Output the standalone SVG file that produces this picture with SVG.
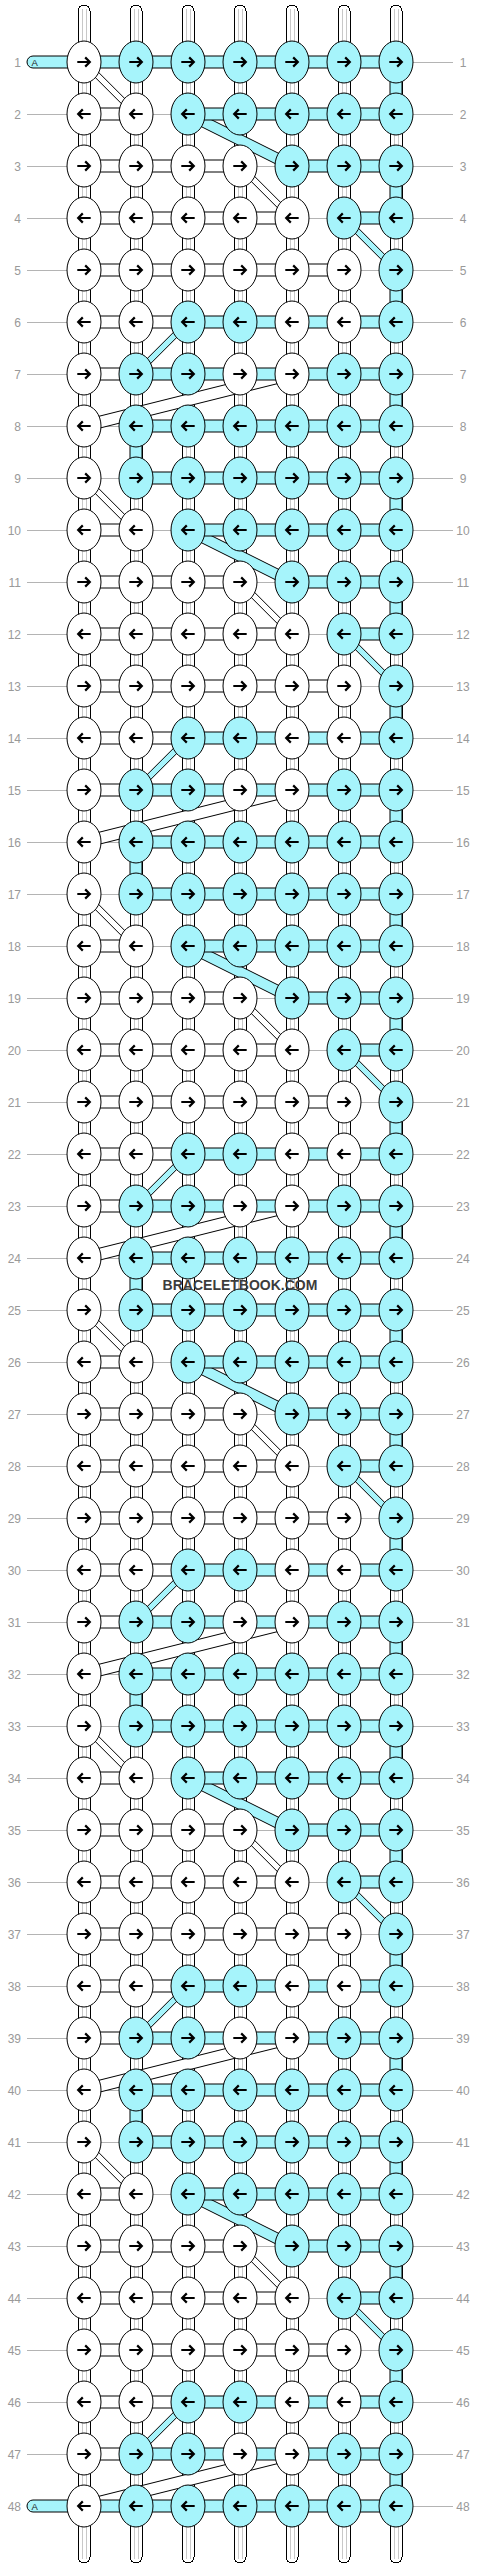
<svg xmlns="http://www.w3.org/2000/svg" width="480" height="2568" viewBox="0 0 480 2568">
<style>
.gd{stroke:#b4b4b4;stroke-width:1;fill:none}
.lb{font-family:"Liberation Sans",Arial,sans-serif;font-size:12px;fill:#999}
.il{stroke:#c8c8c8;stroke-width:1;fill:none}
.b{fill:#a6f4fb;stroke:#000;stroke-width:1}
.w{fill:#fff;stroke:#000;stroke-width:1}
.ar{fill:none;stroke:#000;stroke-width:2.2}
.at{font-family:"Liberation Sans",Arial,sans-serif;font-size:9.5px;fill:#222}
.wm{font-family:"Liberation Sans",Arial,sans-serif;font-size:14px;font-weight:bold;fill:#3c3c3c}
</style>
<defs>
<path id="ra" class="ar" d="M-6.7,0H5.3M1.2,-4.6L5.8,0L1.2,4.6"/>
<path id="la" class="ar" d="M6.7,0H-5.3M-1.2,-4.6L-5.8,0L-1.2,4.6"/>
<g id="WR"><ellipse class="w" rx="17" ry="21"/><use href="#ra"/></g>
<g id="WL"><ellipse class="w" rx="17" ry="21"/><use href="#la"/></g>
<g id="BR"><ellipse class="b" rx="17" ry="21"/><use href="#ra"/></g>
<g id="BL"><ellipse class="b" rx="17" ry="21"/><use href="#la"/></g>
</defs>
<rect width="480" height="2568" fill="#fff"/>
<g id="guides" shape-rendering="crispEdges">
<path class="gd" d="M27 62H453M27 114H453M27 166H453M27 218H453M27 270H453M27 322H453M27 374H453M27 426H453M27 478H453M27 530H453M27 582H453M27 634H453M27 686H453M27 738H453M27 790H453M27 842H453M27 894H453M27 946H453M27 998H453M27 1050H453M27 1102H453M27 1154H453M27 1206H453M27 1258H453M27 1310H453M27 1362H453M27 1414H453M27 1466H453M27 1518H453M27 1570H453M27 1622H453M27 1674H453M27 1726H453M27 1778H453M27 1830H453M27 1882H453M27 1934H453M27 1986H453M27 2038H453M27 2090H453M27 2142H453M27 2194H453M27 2246H453M27 2298H453M27 2350H453M27 2402H453M27 2454H453M27 2506H453"/>
</g>
<g id="labels-left" class="lb" text-anchor="end">
<text x="21" y="66.5">1</text><text x="21" y="118.5">2</text><text x="21" y="170.5">3</text><text x="21" y="222.5">4</text><text x="21" y="274.5">5</text><text x="21" y="326.5">6</text><text x="21" y="378.5">7</text><text x="21" y="430.5">8</text>
<text x="21" y="482.5">9</text><text x="21" y="534.5">10</text><text x="21" y="586.5">11</text><text x="21" y="638.5">12</text><text x="21" y="690.5">13</text><text x="21" y="742.5">14</text><text x="21" y="794.5">15</text><text x="21" y="846.5">16</text>
<text x="21" y="898.5">17</text><text x="21" y="950.5">18</text><text x="21" y="1002.5">19</text><text x="21" y="1054.5">20</text><text x="21" y="1106.5">21</text><text x="21" y="1158.5">22</text><text x="21" y="1210.5">23</text><text x="21" y="1262.5">24</text>
<text x="21" y="1314.5">25</text><text x="21" y="1366.5">26</text><text x="21" y="1418.5">27</text><text x="21" y="1470.5">28</text><text x="21" y="1522.5">29</text><text x="21" y="1574.5">30</text><text x="21" y="1626.5">31</text><text x="21" y="1678.5">32</text>
<text x="21" y="1730.5">33</text><text x="21" y="1782.5">34</text><text x="21" y="1834.5">35</text><text x="21" y="1886.5">36</text><text x="21" y="1938.5">37</text><text x="21" y="1990.5">38</text><text x="21" y="2042.5">39</text><text x="21" y="2094.5">40</text>
<text x="21" y="2146.5">41</text><text x="21" y="2198.5">42</text><text x="21" y="2250.5">43</text><text x="21" y="2302.5">44</text><text x="21" y="2354.5">45</text><text x="21" y="2406.5">46</text><text x="21" y="2458.5">47</text><text x="21" y="2510.5">48</text>
</g>
<g id="labels-right" class="lb" text-anchor="middle">
<text x="463" y="66.5">1</text><text x="463" y="118.5">2</text><text x="463" y="170.5">3</text><text x="463" y="222.5">4</text><text x="463" y="274.5">5</text><text x="463" y="326.5">6</text><text x="463" y="378.5">7</text><text x="463" y="430.5">8</text>
<text x="463" y="482.5">9</text><text x="463" y="534.5">10</text><text x="463" y="586.5">11</text><text x="463" y="638.5">12</text><text x="463" y="690.5">13</text><text x="463" y="742.5">14</text><text x="463" y="794.5">15</text><text x="463" y="846.5">16</text>
<text x="463" y="898.5">17</text><text x="463" y="950.5">18</text><text x="463" y="1002.5">19</text><text x="463" y="1054.5">20</text><text x="463" y="1106.5">21</text><text x="463" y="1158.5">22</text><text x="463" y="1210.5">23</text><text x="463" y="1262.5">24</text>
<text x="463" y="1314.5">25</text><text x="463" y="1366.5">26</text><text x="463" y="1418.5">27</text><text x="463" y="1470.5">28</text><text x="463" y="1522.5">29</text><text x="463" y="1574.5">30</text><text x="463" y="1626.5">31</text><text x="463" y="1678.5">32</text>
<text x="463" y="1730.5">33</text><text x="463" y="1782.5">34</text><text x="463" y="1834.5">35</text><text x="463" y="1886.5">36</text><text x="463" y="1938.5">37</text><text x="463" y="1990.5">38</text><text x="463" y="2042.5">39</text><text x="463" y="2094.5">40</text>
<text x="463" y="2146.5">41</text><text x="463" y="2198.5">42</text><text x="463" y="2250.5">43</text><text x="463" y="2302.5">44</text><text x="463" y="2354.5">45</text><text x="463" y="2406.5">46</text><text x="463" y="2458.5">47</text><text x="463" y="2510.5">48</text>
</g>
<g id="strings" shape-rendering="crispEdges">
<rect class="w" x="78" y="5" width="12" height="2558" rx="6"/>
<rect class="w" x="130" y="5" width="12" height="2558" rx="6"/>
<rect class="w" x="182" y="5" width="12" height="2558" rx="6"/>
<rect class="w" x="234" y="5" width="12" height="2558" rx="6"/>
<rect class="w" x="286" y="5" width="12" height="2558" rx="6"/>
<rect class="w" x="338" y="5" width="12" height="2558" rx="6"/>
<rect class="w" x="390" y="5" width="12" height="2558" rx="6"/>
<path class="il" d="M82 9V2559M86 9V2559M134 9V2559M138 9V2559M186 9V2559M190 9V2559M238 9V2559M242 9V2559M290 9V2559M294 9V2559M342 9V2559M346 9V2559M394 9V2559M398 9V2559"/>
</g>
<g id="connectors">
<g id="conn-p1">
<rect class="b" x="390" y="77" width="12" height="22"/><rect class="b" x="390" y="181" width="12" height="22"/><rect class="b" x="390" y="285" width="12" height="22"/><rect class="b" x="390" y="389" width="12" height="22"/><rect class="b" x="130" y="441" width="12" height="22"/>
<polygon class="w" points="86.1,59.9 138.1,111.9 133.9,116.1 81.9,64.1"/><polygon class="b" points="188,108 292,160 292,172 188,120"/><polygon class="w" points="242.1,163.9 294.1,215.9 289.9,220.1 237.9,168.1"/><polygon class="b" points="346.1,215.9 398.1,267.9 393.9,272.1 341.9,220.1"/><polygon class="b" points="190.1,324.1 138.1,376.1 133.9,371.9 185.9,319.9"/><polygon class="w" points="292,368 84,420 84,432 292,380"/>
<rect class="b" x="27" y="56" width="62" height="12" rx="6"/><text class="at" x="31.5" y="65.5">A</text>
<rect class="b" x="96" y="56" width="288" height="12"/>
<rect class="w" x="96" y="108" width="28" height="12"/><rect class="b" x="200" y="108" width="184" height="12"/><rect class="w" x="96" y="160" width="132" height="12"/><rect class="b" x="304" y="160" width="80" height="12"/><rect class="w" x="96" y="212" width="184" height="12"/><rect class="b" x="356" y="212" width="28" height="12"/><rect class="w" x="96" y="264" width="236" height="12"/><rect class="w" x="96" y="316" width="80" height="12"/><rect class="b" x="200" y="316" width="184" height="12"/><rect class="w" x="96" y="368" width="28" height="12"/><rect class="b" x="148" y="368" width="236" height="12"/><rect class="b" x="148" y="420" width="236" height="12"/>
</g>
<g id="conn-p2" transform="translate(0,416)">
<rect class="b" x="390" y="77" width="12" height="22"/><rect class="b" x="390" y="181" width="12" height="22"/><rect class="b" x="390" y="285" width="12" height="22"/><rect class="b" x="390" y="389" width="12" height="22"/><rect class="b" x="130" y="441" width="12" height="22"/>
<polygon class="w" points="86.1,59.9 138.1,111.9 133.9,116.1 81.9,64.1"/><polygon class="b" points="188,108 292,160 292,172 188,120"/><polygon class="w" points="242.1,163.9 294.1,215.9 289.9,220.1 237.9,168.1"/><polygon class="b" points="346.1,215.9 398.1,267.9 393.9,272.1 341.9,220.1"/><polygon class="b" points="190.1,324.1 138.1,376.1 133.9,371.9 185.9,319.9"/><polygon class="w" points="292,368 84,420 84,432 292,380"/>
<rect class="b" x="148" y="56" width="236" height="12"/>
<rect class="w" x="96" y="108" width="28" height="12"/><rect class="b" x="200" y="108" width="184" height="12"/><rect class="w" x="96" y="160" width="132" height="12"/><rect class="b" x="304" y="160" width="80" height="12"/><rect class="w" x="96" y="212" width="184" height="12"/><rect class="b" x="356" y="212" width="28" height="12"/><rect class="w" x="96" y="264" width="236" height="12"/><rect class="w" x="96" y="316" width="80" height="12"/><rect class="b" x="200" y="316" width="184" height="12"/><rect class="w" x="96" y="368" width="28" height="12"/><rect class="b" x="148" y="368" width="236" height="12"/><rect class="b" x="148" y="420" width="236" height="12"/>
</g>
<g id="conn-p3" transform="translate(0,832)">
<rect class="b" x="390" y="77" width="12" height="22"/><rect class="b" x="390" y="181" width="12" height="22"/><rect class="b" x="390" y="285" width="12" height="22"/><rect class="b" x="390" y="389" width="12" height="22"/><rect class="b" x="130" y="441" width="12" height="22"/>
<polygon class="w" points="86.1,59.9 138.1,111.9 133.9,116.1 81.9,64.1"/><polygon class="b" points="188,108 292,160 292,172 188,120"/><polygon class="w" points="242.1,163.9 294.1,215.9 289.9,220.1 237.9,168.1"/><polygon class="b" points="346.1,215.9 398.1,267.9 393.9,272.1 341.9,220.1"/><polygon class="b" points="190.1,324.1 138.1,376.1 133.9,371.9 185.9,319.9"/><polygon class="w" points="292,368 84,420 84,432 292,380"/>
<rect class="b" x="148" y="56" width="236" height="12"/>
<rect class="w" x="96" y="108" width="28" height="12"/><rect class="b" x="200" y="108" width="184" height="12"/><rect class="w" x="96" y="160" width="132" height="12"/><rect class="b" x="304" y="160" width="80" height="12"/><rect class="w" x="96" y="212" width="184" height="12"/><rect class="b" x="356" y="212" width="28" height="12"/><rect class="w" x="96" y="264" width="236" height="12"/><rect class="w" x="96" y="316" width="80" height="12"/><rect class="b" x="200" y="316" width="184" height="12"/><rect class="w" x="96" y="368" width="28" height="12"/><rect class="b" x="148" y="368" width="236" height="12"/><rect class="b" x="148" y="420" width="236" height="12"/>
</g>
<g id="conn-p4" transform="translate(0,1248)">
<rect class="b" x="390" y="77" width="12" height="22"/><rect class="b" x="390" y="181" width="12" height="22"/><rect class="b" x="390" y="285" width="12" height="22"/><rect class="b" x="390" y="389" width="12" height="22"/><rect class="b" x="130" y="441" width="12" height="22"/>
<polygon class="w" points="86.1,59.9 138.1,111.9 133.9,116.1 81.9,64.1"/><polygon class="b" points="188,108 292,160 292,172 188,120"/><polygon class="w" points="242.1,163.9 294.1,215.9 289.9,220.1 237.9,168.1"/><polygon class="b" points="346.1,215.9 398.1,267.9 393.9,272.1 341.9,220.1"/><polygon class="b" points="190.1,324.1 138.1,376.1 133.9,371.9 185.9,319.9"/><polygon class="w" points="292,368 84,420 84,432 292,380"/>
<rect class="b" x="148" y="56" width="236" height="12"/>
<rect class="w" x="96" y="108" width="28" height="12"/><rect class="b" x="200" y="108" width="184" height="12"/><rect class="w" x="96" y="160" width="132" height="12"/><rect class="b" x="304" y="160" width="80" height="12"/><rect class="w" x="96" y="212" width="184" height="12"/><rect class="b" x="356" y="212" width="28" height="12"/><rect class="w" x="96" y="264" width="236" height="12"/><rect class="w" x="96" y="316" width="80" height="12"/><rect class="b" x="200" y="316" width="184" height="12"/><rect class="w" x="96" y="368" width="28" height="12"/><rect class="b" x="148" y="368" width="236" height="12"/><rect class="b" x="148" y="420" width="236" height="12"/>
</g>
<g id="conn-p5" transform="translate(0,1664)">
<rect class="b" x="390" y="77" width="12" height="22"/><rect class="b" x="390" y="181" width="12" height="22"/><rect class="b" x="390" y="285" width="12" height="22"/><rect class="b" x="390" y="389" width="12" height="22"/><rect class="b" x="130" y="441" width="12" height="22"/>
<polygon class="w" points="86.1,59.9 138.1,111.9 133.9,116.1 81.9,64.1"/><polygon class="b" points="188,108 292,160 292,172 188,120"/><polygon class="w" points="242.1,163.9 294.1,215.9 289.9,220.1 237.9,168.1"/><polygon class="b" points="346.1,215.9 398.1,267.9 393.9,272.1 341.9,220.1"/><polygon class="b" points="190.1,324.1 138.1,376.1 133.9,371.9 185.9,319.9"/><polygon class="w" points="292,368 84,420 84,432 292,380"/>
<rect class="b" x="148" y="56" width="236" height="12"/>
<rect class="w" x="96" y="108" width="28" height="12"/><rect class="b" x="200" y="108" width="184" height="12"/><rect class="w" x="96" y="160" width="132" height="12"/><rect class="b" x="304" y="160" width="80" height="12"/><rect class="w" x="96" y="212" width="184" height="12"/><rect class="b" x="356" y="212" width="28" height="12"/><rect class="w" x="96" y="264" width="236" height="12"/><rect class="w" x="96" y="316" width="80" height="12"/><rect class="b" x="200" y="316" width="184" height="12"/><rect class="w" x="96" y="368" width="28" height="12"/><rect class="b" x="148" y="368" width="236" height="12"/><rect class="b" x="148" y="420" width="236" height="12"/>
</g>
<g id="conn-p6" transform="translate(0,2080)">
<rect class="b" x="390" y="77" width="12" height="22"/><rect class="b" x="390" y="181" width="12" height="22"/><rect class="b" x="390" y="285" width="12" height="22"/><rect class="b" x="390" y="389" width="12" height="22"/>
<polygon class="w" points="86.1,59.9 138.1,111.9 133.9,116.1 81.9,64.1"/><polygon class="b" points="188,108 292,160 292,172 188,120"/><polygon class="w" points="242.1,163.9 294.1,215.9 289.9,220.1 237.9,168.1"/><polygon class="b" points="346.1,215.9 398.1,267.9 393.9,272.1 341.9,220.1"/><polygon class="b" points="190.1,324.1 138.1,376.1 133.9,371.9 185.9,319.9"/><polygon class="w" points="292,368 84,420 84,432 292,380"/>
<rect class="b" x="148" y="56" width="236" height="12"/>
<rect class="w" x="96" y="108" width="28" height="12"/><rect class="b" x="200" y="108" width="184" height="12"/><rect class="w" x="96" y="160" width="132" height="12"/><rect class="b" x="304" y="160" width="80" height="12"/><rect class="w" x="96" y="212" width="184" height="12"/><rect class="b" x="356" y="212" width="28" height="12"/><rect class="w" x="96" y="264" width="236" height="12"/><rect class="w" x="96" y="316" width="80" height="12"/><rect class="b" x="200" y="316" width="184" height="12"/><rect class="w" x="96" y="368" width="28" height="12"/><rect class="b" x="148" y="368" width="236" height="12"/>
<rect class="b" x="27" y="420" width="62" height="12" rx="6"/><text class="at" x="31.5" y="429.5">A</text>
<rect class="b" x="96" y="420" width="288" height="12"/>
</g>
</g>
<g id="knots">
<g id="knots-p1">
<g id="n1-1"><use href="#WR" x="84" y="62"/></g><g id="n1-2"><use href="#BR" x="136" y="62"/></g><g id="n1-3"><use href="#BR" x="188" y="62"/></g><g id="n1-4"><use href="#BR" x="240" y="62"/></g><g id="n1-5"><use href="#BR" x="292" y="62"/></g><g id="n1-6"><use href="#BR" x="344" y="62"/></g><g id="n1-7"><use href="#BR" x="396" y="62"/></g>
<g id="n2-1"><use href="#WL" x="84" y="114"/></g><g id="n2-2"><use href="#WL" x="136" y="114"/></g><g id="n2-3"><use href="#BL" x="188" y="114"/></g><g id="n2-4"><use href="#BL" x="240" y="114"/></g><g id="n2-5"><use href="#BL" x="292" y="114"/></g><g id="n2-6"><use href="#BL" x="344" y="114"/></g><g id="n2-7"><use href="#BL" x="396" y="114"/></g>
<g id="n3-1"><use href="#WR" x="84" y="166"/></g><g id="n3-2"><use href="#WR" x="136" y="166"/></g><g id="n3-3"><use href="#WR" x="188" y="166"/></g><g id="n3-4"><use href="#WR" x="240" y="166"/></g><g id="n3-5"><use href="#BR" x="292" y="166"/></g><g id="n3-6"><use href="#BR" x="344" y="166"/></g><g id="n3-7"><use href="#BR" x="396" y="166"/></g>
<g id="n4-1"><use href="#WL" x="84" y="218"/></g><g id="n4-2"><use href="#WL" x="136" y="218"/></g><g id="n4-3"><use href="#WL" x="188" y="218"/></g><g id="n4-4"><use href="#WL" x="240" y="218"/></g><g id="n4-5"><use href="#WL" x="292" y="218"/></g><g id="n4-6"><use href="#BL" x="344" y="218"/></g><g id="n4-7"><use href="#BL" x="396" y="218"/></g>
<g id="n5-1"><use href="#WR" x="84" y="270"/></g><g id="n5-2"><use href="#WR" x="136" y="270"/></g><g id="n5-3"><use href="#WR" x="188" y="270"/></g><g id="n5-4"><use href="#WR" x="240" y="270"/></g><g id="n5-5"><use href="#WR" x="292" y="270"/></g><g id="n5-6"><use href="#WR" x="344" y="270"/></g><g id="n5-7"><use href="#BR" x="396" y="270"/></g>
<g id="n6-1"><use href="#WL" x="84" y="322"/></g><g id="n6-2"><use href="#WL" x="136" y="322"/></g><g id="n6-3"><use href="#BL" x="188" y="322"/></g><g id="n6-4"><use href="#BL" x="240" y="322"/></g><g id="n6-5"><use href="#WL" x="292" y="322"/></g><g id="n6-6"><use href="#WL" x="344" y="322"/></g><g id="n6-7"><use href="#BL" x="396" y="322"/></g>
<g id="n7-1"><use href="#WR" x="84" y="374"/></g><g id="n7-2"><use href="#BR" x="136" y="374"/></g><g id="n7-3"><use href="#BR" x="188" y="374"/></g><g id="n7-4"><use href="#WR" x="240" y="374"/></g><g id="n7-5"><use href="#WR" x="292" y="374"/></g><g id="n7-6"><use href="#BR" x="344" y="374"/></g><g id="n7-7"><use href="#BR" x="396" y="374"/></g>
<g id="n8-1"><use href="#WL" x="84" y="426"/></g><g id="n8-2"><use href="#BL" x="136" y="426"/></g><g id="n8-3"><use href="#BL" x="188" y="426"/></g><g id="n8-4"><use href="#BL" x="240" y="426"/></g><g id="n8-5"><use href="#BL" x="292" y="426"/></g><g id="n8-6"><use href="#BL" x="344" y="426"/></g><g id="n8-7"><use href="#BL" x="396" y="426"/></g>
</g>
<g id="knots-p2" transform="translate(0,416)">
<g id="n9-1"><use href="#WR" x="84" y="62"/></g><g id="n9-2"><use href="#BR" x="136" y="62"/></g><g id="n9-3"><use href="#BR" x="188" y="62"/></g><g id="n9-4"><use href="#BR" x="240" y="62"/></g><g id="n9-5"><use href="#BR" x="292" y="62"/></g><g id="n9-6"><use href="#BR" x="344" y="62"/></g><g id="n9-7"><use href="#BR" x="396" y="62"/></g>
<g id="n10-1"><use href="#WL" x="84" y="114"/></g><g id="n10-2"><use href="#WL" x="136" y="114"/></g><g id="n10-3"><use href="#BL" x="188" y="114"/></g><g id="n10-4"><use href="#BL" x="240" y="114"/></g><g id="n10-5"><use href="#BL" x="292" y="114"/></g><g id="n10-6"><use href="#BL" x="344" y="114"/></g><g id="n10-7"><use href="#BL" x="396" y="114"/></g>
<g id="n11-1"><use href="#WR" x="84" y="166"/></g><g id="n11-2"><use href="#WR" x="136" y="166"/></g><g id="n11-3"><use href="#WR" x="188" y="166"/></g><g id="n11-4"><use href="#WR" x="240" y="166"/></g><g id="n11-5"><use href="#BR" x="292" y="166"/></g><g id="n11-6"><use href="#BR" x="344" y="166"/></g><g id="n11-7"><use href="#BR" x="396" y="166"/></g>
<g id="n12-1"><use href="#WL" x="84" y="218"/></g><g id="n12-2"><use href="#WL" x="136" y="218"/></g><g id="n12-3"><use href="#WL" x="188" y="218"/></g><g id="n12-4"><use href="#WL" x="240" y="218"/></g><g id="n12-5"><use href="#WL" x="292" y="218"/></g><g id="n12-6"><use href="#BL" x="344" y="218"/></g><g id="n12-7"><use href="#BL" x="396" y="218"/></g>
<g id="n13-1"><use href="#WR" x="84" y="270"/></g><g id="n13-2"><use href="#WR" x="136" y="270"/></g><g id="n13-3"><use href="#WR" x="188" y="270"/></g><g id="n13-4"><use href="#WR" x="240" y="270"/></g><g id="n13-5"><use href="#WR" x="292" y="270"/></g><g id="n13-6"><use href="#WR" x="344" y="270"/></g><g id="n13-7"><use href="#BR" x="396" y="270"/></g>
<g id="n14-1"><use href="#WL" x="84" y="322"/></g><g id="n14-2"><use href="#WL" x="136" y="322"/></g><g id="n14-3"><use href="#BL" x="188" y="322"/></g><g id="n14-4"><use href="#BL" x="240" y="322"/></g><g id="n14-5"><use href="#WL" x="292" y="322"/></g><g id="n14-6"><use href="#WL" x="344" y="322"/></g><g id="n14-7"><use href="#BL" x="396" y="322"/></g>
<g id="n15-1"><use href="#WR" x="84" y="374"/></g><g id="n15-2"><use href="#BR" x="136" y="374"/></g><g id="n15-3"><use href="#BR" x="188" y="374"/></g><g id="n15-4"><use href="#WR" x="240" y="374"/></g><g id="n15-5"><use href="#WR" x="292" y="374"/></g><g id="n15-6"><use href="#BR" x="344" y="374"/></g><g id="n15-7"><use href="#BR" x="396" y="374"/></g>
<g id="n16-1"><use href="#WL" x="84" y="426"/></g><g id="n16-2"><use href="#BL" x="136" y="426"/></g><g id="n16-3"><use href="#BL" x="188" y="426"/></g><g id="n16-4"><use href="#BL" x="240" y="426"/></g><g id="n16-5"><use href="#BL" x="292" y="426"/></g><g id="n16-6"><use href="#BL" x="344" y="426"/></g><g id="n16-7"><use href="#BL" x="396" y="426"/></g>
</g>
<g id="knots-p3" transform="translate(0,832)">
<g id="n17-1"><use href="#WR" x="84" y="62"/></g><g id="n17-2"><use href="#BR" x="136" y="62"/></g><g id="n17-3"><use href="#BR" x="188" y="62"/></g><g id="n17-4"><use href="#BR" x="240" y="62"/></g><g id="n17-5"><use href="#BR" x="292" y="62"/></g><g id="n17-6"><use href="#BR" x="344" y="62"/></g><g id="n17-7"><use href="#BR" x="396" y="62"/></g>
<g id="n18-1"><use href="#WL" x="84" y="114"/></g><g id="n18-2"><use href="#WL" x="136" y="114"/></g><g id="n18-3"><use href="#BL" x="188" y="114"/></g><g id="n18-4"><use href="#BL" x="240" y="114"/></g><g id="n18-5"><use href="#BL" x="292" y="114"/></g><g id="n18-6"><use href="#BL" x="344" y="114"/></g><g id="n18-7"><use href="#BL" x="396" y="114"/></g>
<g id="n19-1"><use href="#WR" x="84" y="166"/></g><g id="n19-2"><use href="#WR" x="136" y="166"/></g><g id="n19-3"><use href="#WR" x="188" y="166"/></g><g id="n19-4"><use href="#WR" x="240" y="166"/></g><g id="n19-5"><use href="#BR" x="292" y="166"/></g><g id="n19-6"><use href="#BR" x="344" y="166"/></g><g id="n19-7"><use href="#BR" x="396" y="166"/></g>
<g id="n20-1"><use href="#WL" x="84" y="218"/></g><g id="n20-2"><use href="#WL" x="136" y="218"/></g><g id="n20-3"><use href="#WL" x="188" y="218"/></g><g id="n20-4"><use href="#WL" x="240" y="218"/></g><g id="n20-5"><use href="#WL" x="292" y="218"/></g><g id="n20-6"><use href="#BL" x="344" y="218"/></g><g id="n20-7"><use href="#BL" x="396" y="218"/></g>
<g id="n21-1"><use href="#WR" x="84" y="270"/></g><g id="n21-2"><use href="#WR" x="136" y="270"/></g><g id="n21-3"><use href="#WR" x="188" y="270"/></g><g id="n21-4"><use href="#WR" x="240" y="270"/></g><g id="n21-5"><use href="#WR" x="292" y="270"/></g><g id="n21-6"><use href="#WR" x="344" y="270"/></g><g id="n21-7"><use href="#BR" x="396" y="270"/></g>
<g id="n22-1"><use href="#WL" x="84" y="322"/></g><g id="n22-2"><use href="#WL" x="136" y="322"/></g><g id="n22-3"><use href="#BL" x="188" y="322"/></g><g id="n22-4"><use href="#BL" x="240" y="322"/></g><g id="n22-5"><use href="#WL" x="292" y="322"/></g><g id="n22-6"><use href="#WL" x="344" y="322"/></g><g id="n22-7"><use href="#BL" x="396" y="322"/></g>
<g id="n23-1"><use href="#WR" x="84" y="374"/></g><g id="n23-2"><use href="#BR" x="136" y="374"/></g><g id="n23-3"><use href="#BR" x="188" y="374"/></g><g id="n23-4"><use href="#WR" x="240" y="374"/></g><g id="n23-5"><use href="#WR" x="292" y="374"/></g><g id="n23-6"><use href="#BR" x="344" y="374"/></g><g id="n23-7"><use href="#BR" x="396" y="374"/></g>
<g id="n24-1"><use href="#WL" x="84" y="426"/></g><g id="n24-2"><use href="#BL" x="136" y="426"/></g><g id="n24-3"><use href="#BL" x="188" y="426"/></g><g id="n24-4"><use href="#BL" x="240" y="426"/></g><g id="n24-5"><use href="#BL" x="292" y="426"/></g><g id="n24-6"><use href="#BL" x="344" y="426"/></g><g id="n24-7"><use href="#BL" x="396" y="426"/></g>
</g>
<g id="knots-p4" transform="translate(0,1248)">
<g id="n25-1"><use href="#WR" x="84" y="62"/></g><g id="n25-2"><use href="#BR" x="136" y="62"/></g><g id="n25-3"><use href="#BR" x="188" y="62"/></g><g id="n25-4"><use href="#BR" x="240" y="62"/></g><g id="n25-5"><use href="#BR" x="292" y="62"/></g><g id="n25-6"><use href="#BR" x="344" y="62"/></g><g id="n25-7"><use href="#BR" x="396" y="62"/></g>
<g id="n26-1"><use href="#WL" x="84" y="114"/></g><g id="n26-2"><use href="#WL" x="136" y="114"/></g><g id="n26-3"><use href="#BL" x="188" y="114"/></g><g id="n26-4"><use href="#BL" x="240" y="114"/></g><g id="n26-5"><use href="#BL" x="292" y="114"/></g><g id="n26-6"><use href="#BL" x="344" y="114"/></g><g id="n26-7"><use href="#BL" x="396" y="114"/></g>
<g id="n27-1"><use href="#WR" x="84" y="166"/></g><g id="n27-2"><use href="#WR" x="136" y="166"/></g><g id="n27-3"><use href="#WR" x="188" y="166"/></g><g id="n27-4"><use href="#WR" x="240" y="166"/></g><g id="n27-5"><use href="#BR" x="292" y="166"/></g><g id="n27-6"><use href="#BR" x="344" y="166"/></g><g id="n27-7"><use href="#BR" x="396" y="166"/></g>
<g id="n28-1"><use href="#WL" x="84" y="218"/></g><g id="n28-2"><use href="#WL" x="136" y="218"/></g><g id="n28-3"><use href="#WL" x="188" y="218"/></g><g id="n28-4"><use href="#WL" x="240" y="218"/></g><g id="n28-5"><use href="#WL" x="292" y="218"/></g><g id="n28-6"><use href="#BL" x="344" y="218"/></g><g id="n28-7"><use href="#BL" x="396" y="218"/></g>
<g id="n29-1"><use href="#WR" x="84" y="270"/></g><g id="n29-2"><use href="#WR" x="136" y="270"/></g><g id="n29-3"><use href="#WR" x="188" y="270"/></g><g id="n29-4"><use href="#WR" x="240" y="270"/></g><g id="n29-5"><use href="#WR" x="292" y="270"/></g><g id="n29-6"><use href="#WR" x="344" y="270"/></g><g id="n29-7"><use href="#BR" x="396" y="270"/></g>
<g id="n30-1"><use href="#WL" x="84" y="322"/></g><g id="n30-2"><use href="#WL" x="136" y="322"/></g><g id="n30-3"><use href="#BL" x="188" y="322"/></g><g id="n30-4"><use href="#BL" x="240" y="322"/></g><g id="n30-5"><use href="#WL" x="292" y="322"/></g><g id="n30-6"><use href="#WL" x="344" y="322"/></g><g id="n30-7"><use href="#BL" x="396" y="322"/></g>
<g id="n31-1"><use href="#WR" x="84" y="374"/></g><g id="n31-2"><use href="#BR" x="136" y="374"/></g><g id="n31-3"><use href="#BR" x="188" y="374"/></g><g id="n31-4"><use href="#WR" x="240" y="374"/></g><g id="n31-5"><use href="#WR" x="292" y="374"/></g><g id="n31-6"><use href="#BR" x="344" y="374"/></g><g id="n31-7"><use href="#BR" x="396" y="374"/></g>
<g id="n32-1"><use href="#WL" x="84" y="426"/></g><g id="n32-2"><use href="#BL" x="136" y="426"/></g><g id="n32-3"><use href="#BL" x="188" y="426"/></g><g id="n32-4"><use href="#BL" x="240" y="426"/></g><g id="n32-5"><use href="#BL" x="292" y="426"/></g><g id="n32-6"><use href="#BL" x="344" y="426"/></g><g id="n32-7"><use href="#BL" x="396" y="426"/></g>
</g>
<g id="knots-p5" transform="translate(0,1664)">
<g id="n33-1"><use href="#WR" x="84" y="62"/></g><g id="n33-2"><use href="#BR" x="136" y="62"/></g><g id="n33-3"><use href="#BR" x="188" y="62"/></g><g id="n33-4"><use href="#BR" x="240" y="62"/></g><g id="n33-5"><use href="#BR" x="292" y="62"/></g><g id="n33-6"><use href="#BR" x="344" y="62"/></g><g id="n33-7"><use href="#BR" x="396" y="62"/></g>
<g id="n34-1"><use href="#WL" x="84" y="114"/></g><g id="n34-2"><use href="#WL" x="136" y="114"/></g><g id="n34-3"><use href="#BL" x="188" y="114"/></g><g id="n34-4"><use href="#BL" x="240" y="114"/></g><g id="n34-5"><use href="#BL" x="292" y="114"/></g><g id="n34-6"><use href="#BL" x="344" y="114"/></g><g id="n34-7"><use href="#BL" x="396" y="114"/></g>
<g id="n35-1"><use href="#WR" x="84" y="166"/></g><g id="n35-2"><use href="#WR" x="136" y="166"/></g><g id="n35-3"><use href="#WR" x="188" y="166"/></g><g id="n35-4"><use href="#WR" x="240" y="166"/></g><g id="n35-5"><use href="#BR" x="292" y="166"/></g><g id="n35-6"><use href="#BR" x="344" y="166"/></g><g id="n35-7"><use href="#BR" x="396" y="166"/></g>
<g id="n36-1"><use href="#WL" x="84" y="218"/></g><g id="n36-2"><use href="#WL" x="136" y="218"/></g><g id="n36-3"><use href="#WL" x="188" y="218"/></g><g id="n36-4"><use href="#WL" x="240" y="218"/></g><g id="n36-5"><use href="#WL" x="292" y="218"/></g><g id="n36-6"><use href="#BL" x="344" y="218"/></g><g id="n36-7"><use href="#BL" x="396" y="218"/></g>
<g id="n37-1"><use href="#WR" x="84" y="270"/></g><g id="n37-2"><use href="#WR" x="136" y="270"/></g><g id="n37-3"><use href="#WR" x="188" y="270"/></g><g id="n37-4"><use href="#WR" x="240" y="270"/></g><g id="n37-5"><use href="#WR" x="292" y="270"/></g><g id="n37-6"><use href="#WR" x="344" y="270"/></g><g id="n37-7"><use href="#BR" x="396" y="270"/></g>
<g id="n38-1"><use href="#WL" x="84" y="322"/></g><g id="n38-2"><use href="#WL" x="136" y="322"/></g><g id="n38-3"><use href="#BL" x="188" y="322"/></g><g id="n38-4"><use href="#BL" x="240" y="322"/></g><g id="n38-5"><use href="#WL" x="292" y="322"/></g><g id="n38-6"><use href="#WL" x="344" y="322"/></g><g id="n38-7"><use href="#BL" x="396" y="322"/></g>
<g id="n39-1"><use href="#WR" x="84" y="374"/></g><g id="n39-2"><use href="#BR" x="136" y="374"/></g><g id="n39-3"><use href="#BR" x="188" y="374"/></g><g id="n39-4"><use href="#WR" x="240" y="374"/></g><g id="n39-5"><use href="#WR" x="292" y="374"/></g><g id="n39-6"><use href="#BR" x="344" y="374"/></g><g id="n39-7"><use href="#BR" x="396" y="374"/></g>
<g id="n40-1"><use href="#WL" x="84" y="426"/></g><g id="n40-2"><use href="#BL" x="136" y="426"/></g><g id="n40-3"><use href="#BL" x="188" y="426"/></g><g id="n40-4"><use href="#BL" x="240" y="426"/></g><g id="n40-5"><use href="#BL" x="292" y="426"/></g><g id="n40-6"><use href="#BL" x="344" y="426"/></g><g id="n40-7"><use href="#BL" x="396" y="426"/></g>
</g>
<g id="knots-p6" transform="translate(0,2080)">
<g id="n41-1"><use href="#WR" x="84" y="62"/></g><g id="n41-2"><use href="#BR" x="136" y="62"/></g><g id="n41-3"><use href="#BR" x="188" y="62"/></g><g id="n41-4"><use href="#BR" x="240" y="62"/></g><g id="n41-5"><use href="#BR" x="292" y="62"/></g><g id="n41-6"><use href="#BR" x="344" y="62"/></g><g id="n41-7"><use href="#BR" x="396" y="62"/></g>
<g id="n42-1"><use href="#WL" x="84" y="114"/></g><g id="n42-2"><use href="#WL" x="136" y="114"/></g><g id="n42-3"><use href="#BL" x="188" y="114"/></g><g id="n42-4"><use href="#BL" x="240" y="114"/></g><g id="n42-5"><use href="#BL" x="292" y="114"/></g><g id="n42-6"><use href="#BL" x="344" y="114"/></g><g id="n42-7"><use href="#BL" x="396" y="114"/></g>
<g id="n43-1"><use href="#WR" x="84" y="166"/></g><g id="n43-2"><use href="#WR" x="136" y="166"/></g><g id="n43-3"><use href="#WR" x="188" y="166"/></g><g id="n43-4"><use href="#WR" x="240" y="166"/></g><g id="n43-5"><use href="#BR" x="292" y="166"/></g><g id="n43-6"><use href="#BR" x="344" y="166"/></g><g id="n43-7"><use href="#BR" x="396" y="166"/></g>
<g id="n44-1"><use href="#WL" x="84" y="218"/></g><g id="n44-2"><use href="#WL" x="136" y="218"/></g><g id="n44-3"><use href="#WL" x="188" y="218"/></g><g id="n44-4"><use href="#WL" x="240" y="218"/></g><g id="n44-5"><use href="#WL" x="292" y="218"/></g><g id="n44-6"><use href="#BL" x="344" y="218"/></g><g id="n44-7"><use href="#BL" x="396" y="218"/></g>
<g id="n45-1"><use href="#WR" x="84" y="270"/></g><g id="n45-2"><use href="#WR" x="136" y="270"/></g><g id="n45-3"><use href="#WR" x="188" y="270"/></g><g id="n45-4"><use href="#WR" x="240" y="270"/></g><g id="n45-5"><use href="#WR" x="292" y="270"/></g><g id="n45-6"><use href="#WR" x="344" y="270"/></g><g id="n45-7"><use href="#BR" x="396" y="270"/></g>
<g id="n46-1"><use href="#WL" x="84" y="322"/></g><g id="n46-2"><use href="#WL" x="136" y="322"/></g><g id="n46-3"><use href="#BL" x="188" y="322"/></g><g id="n46-4"><use href="#BL" x="240" y="322"/></g><g id="n46-5"><use href="#WL" x="292" y="322"/></g><g id="n46-6"><use href="#WL" x="344" y="322"/></g><g id="n46-7"><use href="#BL" x="396" y="322"/></g>
<g id="n47-1"><use href="#WR" x="84" y="374"/></g><g id="n47-2"><use href="#BR" x="136" y="374"/></g><g id="n47-3"><use href="#BR" x="188" y="374"/></g><g id="n47-4"><use href="#WR" x="240" y="374"/></g><g id="n47-5"><use href="#WR" x="292" y="374"/></g><g id="n47-6"><use href="#BR" x="344" y="374"/></g><g id="n47-7"><use href="#BR" x="396" y="374"/></g>
<g id="n48-1"><use href="#WL" x="84" y="426"/></g><g id="n48-2"><use href="#BL" x="136" y="426"/></g><g id="n48-3"><use href="#BL" x="188" y="426"/></g><g id="n48-4"><use href="#BL" x="240" y="426"/></g><g id="n48-5"><use href="#BL" x="292" y="426"/></g><g id="n48-6"><use href="#BL" x="344" y="426"/></g><g id="n48-7"><use href="#BL" x="396" y="426"/></g>
</g>
</g>
<text id="watermark" class="wm" x="240" y="1290" text-anchor="middle">BRACELETBOOK.COM</text>
</svg>
